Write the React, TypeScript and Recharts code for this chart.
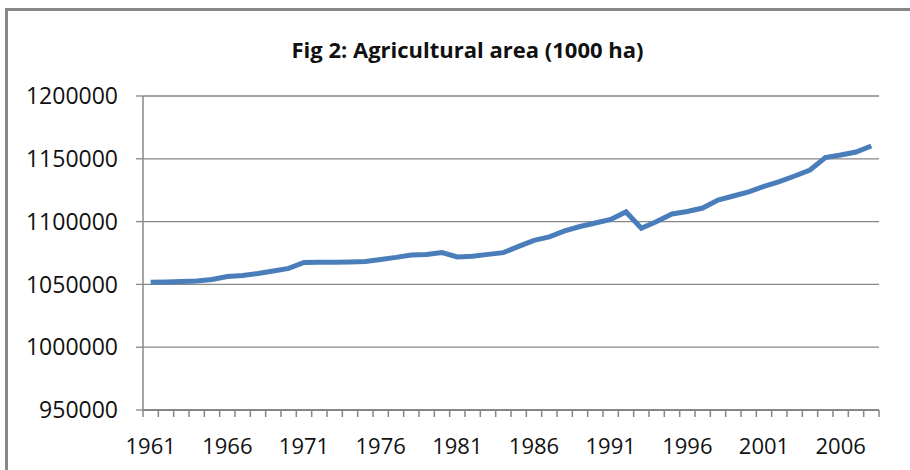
import React from "react";
import { CartesianGrid, Line, LineChart, XAxis, YAxis } from "recharts";

const years = [
  1961, 1962, 1963, 1964, 1965, 1966, 1967, 1968, 1969, 1970,
  1971, 1972, 1973, 1974, 1975, 1976, 1977, 1978, 1979, 1980,
  1981, 1982, 1983, 1984, 1985, 1986, 1987, 1988, 1989, 1990,
  1991, 1992, 1993, 1994, 1995, 1996, 1997, 1998, 1999, 2000,
  2001, 2002, 2003, 2004, 2005, 2006, 2007, 2008,
];

const agriArea = [
  1051700, 1051900, 1052300, 1052700, 1053900, 1056300, 1057100, 1058700, 1060700, 1062700,
  1067500, 1067600, 1067600, 1067900, 1068300, 1069900, 1071500, 1073400, 1073900, 1075400,
  1071800, 1072400, 1073900, 1075300, 1080300, 1085100, 1087800, 1092600, 1096100, 1098900,
  1101700, 1107700, 1094700, 1100100, 1106100, 1108000, 1110800, 1117200, 1120400, 1123600,
  1128000, 1131800, 1136300, 1141100, 1151000, 1153000, 1155400, 1160200,
];

const yTicks = [950000, 1000000, 1050000, 1100000, 1150000, 1200000];
const labelYears = [1961, 1966, 1971, 1976, 1981, 1986, 1991, 1996, 2001, 2006];

const data = years.map((year, i) => ({ year, value: agriArea[i] }));

// tick marks sit between categories (Excel style), labels sit on the category
const tickMarks = [...years.map((y) => y - 0.5), years[years.length - 1] + 0.5];
const xTicks = [...tickMarks, ...labelYears].sort((a, b) => a - b);

const axisColor = "#878787";
const font = "'Open Sans', sans-serif";

function YearTick(props: any) {
  const { x, y, payload } = props;
  const v = payload.value;
  if (v % 1 !== 0) {
    return <line x1={x} x2={x} y1={y} y2={y + 7} stroke={axisColor} strokeWidth={1.5} />;
  }
  return (
    <text x={x} y={y + 35} textAnchor="middle" dominantBaseline="central" fontSize={22} fontFamily={font} fill="#111">
      {v}
    </text>
  );
}

export default function App() {
  return (
    <div style={{ position: "fixed", left: 0, top: 0, width: 910, height: 470, overflow: "hidden", background: "#fff" }}>
      <div
        style={{
          position: "absolute",
          left: 5,
          top: 8,
          width: 940,
          height: 500,
          border: `3px solid ${axisColor}`,
          boxSizing: "border-box",
        }}
      />
      <div
        style={{
          position: "absolute",
          left: 0,
          top: 34,
          width: 935,
          textAlign: "center",
          fontFamily: font,
          fontWeight: 700,
          fontSize: 22,
          color: "#111",
        }}
      >
        Fig 2: Agricultural area (1000 ha)
      </div>
      <div style={{ position: "absolute", left: 0, top: 0 }}>
        <LineChart width={910} height={470} data={data} margin={{ top: 96, right: 31, bottom: 59, left: 0 }}>
          <CartesianGrid vertical={false} stroke={axisColor} strokeWidth={1.3} />
          <XAxis
            dataKey="year"
            type="number"
            domain={[1960.5, 2008.5]}
            ticks={xTicks}
            interval={0}
            height={1}
            tick={<YearTick />}
            tickLine={false}
            tickSize={0}
            tickMargin={0}
            axisLine={{ stroke: axisColor, strokeWidth: 2 }}
            allowDataOverflow
          />
          <YAxis
            width={143}
            domain={[950000, 1200000]}
            ticks={yTicks}
            interval={0}
            tickSize={7}
            tickMargin={18}
            tick={{ fontSize: 23, fontFamily: font, fill: "#111" }}
            tickLine={{ stroke: axisColor, strokeWidth: 1.3 }}
            axisLine={{ stroke: axisColor, strokeWidth: 1.5 }}
          />
          <Line
            type="linear"
            dataKey="value"
            stroke="#4a7ebb"
            strokeWidth={5}
            dot={false}
            isAnimationActive={false}
          />
        </LineChart>
      </div>
    </div>
  );
}
